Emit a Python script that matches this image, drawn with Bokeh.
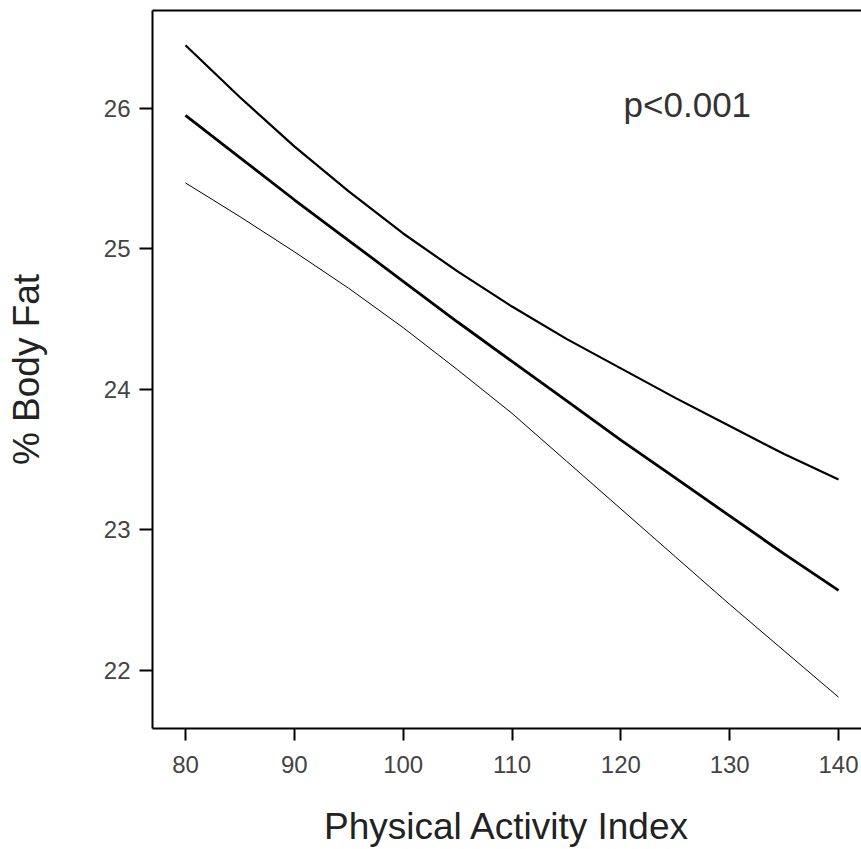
from bokeh.plotting import figure
from bokeh.models import Range1d, LinearAxis, FixedTicker, Label
from bokeh.embed import file_html
from bokeh.resources import INLINE

# Data
pai = [80, 85, 90, 95, 100, 105, 110, 115, 120, 125, 130, 135, 140]
fit = [25.95, 25.65, 25.35, 25.06, 24.77, 24.48, 24.20, 23.92, 23.64, 23.37, 23.10, 22.83, 22.57]
upper = [26.45, 26.08, 25.73, 25.41, 25.11, 24.84, 24.59, 24.36, 24.15, 23.94, 23.74, 23.54, 23.36]
lower = [25.47, 25.23, 24.98, 24.72, 24.44, 24.14, 23.83, 23.49, 23.15, 22.81, 22.47, 22.14, 21.81]
x_ticks = [80, 90, 100, 110, 120, 130, 140]
y_ticks = [22, 23, 24, 25, 26]

FONT = "Liberation Sans"

p = figure(width=861, height=849, output_backend="svg", toolbar_location=None,
           x_range=Range1d(76.97, 142.11), y_range=Range1d(21.587, 26.697),
           min_border_left=152, min_border_right=0, min_border_top=10,
           min_border_bottom=121)
p.outline_line_color = None
p.xgrid.visible = False
p.ygrid.visible = False

p.line(pai, upper, line_color="black", line_width=2.2)
p.line(pai, fit, line_color="black", line_width=2.8)
p.line(pai, lower, line_color="black", line_width=1.0)

for ax in (p.xaxis[0], p.yaxis[0]):
    ax.axis_line_width = 2
    ax.axis_line_color = "black"
    ax.major_tick_line_width = 2
    ax.major_tick_line_color = "black"
    ax.major_tick_in = 0
    ax.minor_tick_line_color = None
    ax.major_label_text_font = FONT
    ax.major_label_text_font_size = "24px"
    ax.major_label_text_color = "#444444"
    ax.axis_label_text_font = FONT
    ax.axis_label_text_font_size = "37px"
    ax.axis_label_text_font_style = "normal"
    ax.axis_label_text_color = "#222222"

p.xaxis[0].ticker = FixedTicker(ticks=x_ticks)
p.yaxis[0].ticker = FixedTicker(ticks=y_ticks)
p.xaxis[0].major_tick_out = 12
p.yaxis[0].major_tick_out = 13
p.xaxis[0].major_label_standoff = 15
p.yaxis[0].major_label_standoff = 9
p.xaxis[0].axis_label = "Physical Activity Index"
p.xaxis[0].axis_label_standoff = 30
p.yaxis[0].axis_label = "% Body Fat"
p.yaxis[0].axis_label_standoff = 54

top = LinearAxis(ticker=FixedTicker(ticks=[]), axis_line_width=2, axis_line_color="black",
                 major_tick_out=0, major_tick_in=0, minor_tick_out=0, minor_tick_in=0,
                 major_label_text_font_size="0px")
p.add_layout(top, "above")

p.add_layout(Label(x=120.25, y=26.03, text="p<0.001", text_font=FONT,
                   text_font_size="35px", text_color="#333333",
                   text_baseline="alphabetic", text_align="left"))

open("out.html", "w").write(file_html(p, INLINE))
